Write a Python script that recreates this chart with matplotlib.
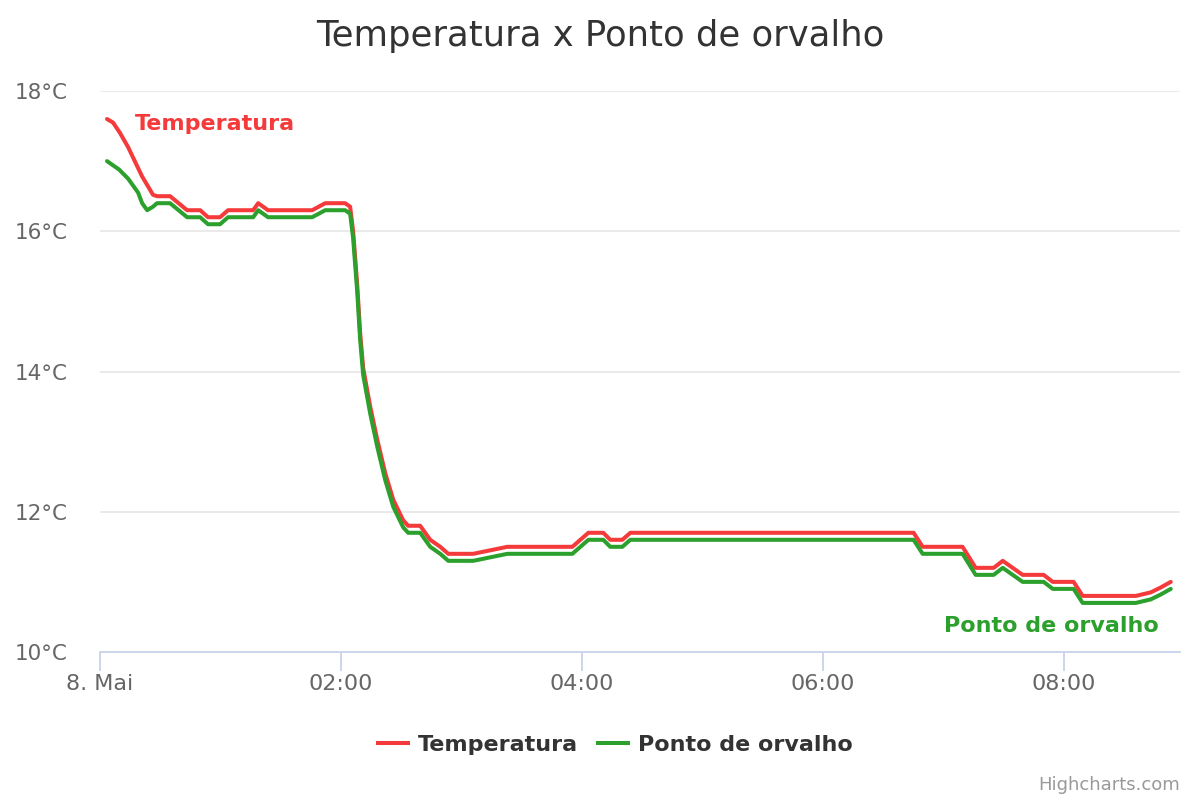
import matplotlib.pyplot as plt
from matplotlib.lines import Line2D

# minutes after midnight (8. Mai) and values in °C
temp_min = [3.5, 6.5, 10, 14, 21, 26.4, 28.4, 34.9, 43.4, 49.9, 53.8, 59.8, 63.8, 76.3, 78.8,
            83.7, 105.7, 112.2, 122.1, 124.6, 126.1, 128.1, 129.6, 131.1, 134.6, 138.1, 142.1,
            146.1, 151.0, 153.5, 159.5, 164.5, 169.5, 173.5, 185.9, 202.9, 235.3, 243.3, 250.7,
            254.2, 260.2, 264.2, 405.3, 409.8, 429.7, 436.2, 445.2, 449.7, 459.6, 470.1, 474.6,
            485.0, 489.5, 516.0, 523.4, 528.4, 533.4]
temp_val = [17.6, 17.55, 17.4, 17.2, 16.78, 16.52, 16.5, 16.5, 16.3, 16.3, 16.2, 16.2, 16.3, 16.3, 16.4,
            16.3, 16.3, 16.4, 16.4, 16.35, 16.0, 15.25, 14.55, 14.05, 13.5, 13.03, 12.55,
            12.17, 11.88, 11.8, 11.8, 11.6, 11.5, 11.4, 11.4, 11.5, 11.5, 11.7, 11.7,
            11.6, 11.6, 11.7, 11.7, 11.5, 11.5, 11.2, 11.2, 11.3, 11.1, 11.1, 11.0,
            11.0, 10.8, 10.8, 10.85, 10.92, 11.0]

dew_min = [3.5, 9.5, 14, 19, 21, 23.5, 26.4, 28.4, 34.9, 43.4, 49.9, 53.8, 59.8, 63.8, 76.3, 78.8,
           83.7, 105.7, 112.2, 122.1, 124.6, 126.1, 128.1, 129.6, 131.1, 134.6, 138.1, 142.1,
           146.1, 151.0, 153.5, 159.5, 164.5, 169.5, 173.5, 185.9, 202.9, 235.3, 243.3, 250.7,
           254.2, 260.2, 264.2, 405.3, 409.8, 429.7, 436.2, 445.2, 449.7, 459.6, 470.1, 474.6,
           485.0, 489.5, 516.0, 523.4, 528.4, 533.4]
dew_val = [17.0, 16.88, 16.75, 16.55, 16.4, 16.3, 16.35, 16.4, 16.4, 16.2, 16.2, 16.1, 16.1, 16.2, 16.2, 16.3,
           16.2, 16.2, 16.3, 16.3, 16.25, 15.9, 15.15, 14.45, 13.95, 13.4, 12.93, 12.45,
           12.07, 11.78, 11.7, 11.7, 11.5, 11.4, 11.3, 11.3, 11.4, 11.4, 11.6, 11.6,
           11.5, 11.5, 11.6, 11.6, 11.4, 11.4, 11.1, 11.1, 11.2, 11.0, 11.0, 10.9,
           10.9, 10.7, 10.7, 10.75, 10.82, 10.9]

x_ticks = [0, 120, 240, 360, 480]
x_labels = ["8. Mai", "02:00", "04:00", "06:00", "08:00"]
y_ticks = [10, 12, 14, 16, 18]

red = "#f43a3a"
green = "#2ca02c"

plt.rcParams['font.family'] = ['DejaVu Sans']

fig = plt.figure(figsize=(12, 8), dpi=100)
ax = fig.add_axes([100 / 1200, 148 / 800, 1080 / 1200, 561 / 800])

ax.plot(temp_min, temp_val, color=red, lw=2.9, solid_joinstyle='round', solid_capstyle='round')
ax.plot(dew_min, dew_val, color=green, lw=2.9, solid_joinstyle='round', solid_capstyle='round')

ax.set_xlim(0, 538)
ax.set_ylim(10, 18)
ax.set_xticks(x_ticks)
ax.set_xticklabels(x_labels)
ax.set_yticks(y_ticks)
ax.set_yticklabels([f"{v}°C" for v in y_ticks])

for s in ['top', 'right', 'left']:
    ax.spines[s].set_visible(False)
ax.spines['bottom'].set_color('#ccd6eb')
ax.spines['bottom'].set_linewidth(1.4)

ax.grid(axis='y', color='#e6e6e6', lw=1.2)
ax.set_axisbelow(True)
ax.tick_params(axis='x', length=14, width=1.4, color='#ccd6eb', labelsize=16, labelcolor='#666666', pad=2)
ax.tick_params(axis='y', length=0, labelsize=15.5, labelcolor='#666666', pad=23)

ax.text(0.0324, 0.941, "Temperatura", transform=ax.transAxes, color=red, fontsize=16,
        fontweight='bold', ha='left', va='center')
ax.text(0.8806, 0.0463, "Ponto de orvalho", transform=ax.transAxes, color=green, fontsize=16,
        fontweight='bold', ha='center', va='center')

fig.text(0.5, 1 - 36 / 800, "Temperatura x Ponto de orvalho", ha='center', va='center',
         fontsize=25.5, color='#333333')

handles = [Line2D([], [], color=red, lw=2.9), Line2D([], [], color=green, lw=2.9)]
leg = fig.legend(handles, ["Temperatura", "Ponto de orvalho"], loc='center',
                 bbox_to_anchor=(0.513, 1 - 745 / 800), ncol=2, frameon=False,
                 handlelength=1.35, handletextpad=0.45, columnspacing=0.9,
                 prop={'size': 16, 'weight': 'bold'})
for t in leg.get_texts():
    t.set_color('#333333')

fig.text(1180 / 1200, 1 - 785 / 800, "Highcharts.com", ha='right', va='center',
         fontsize=13, color='#999999')

fig.savefig("out.png", dpi=100)
